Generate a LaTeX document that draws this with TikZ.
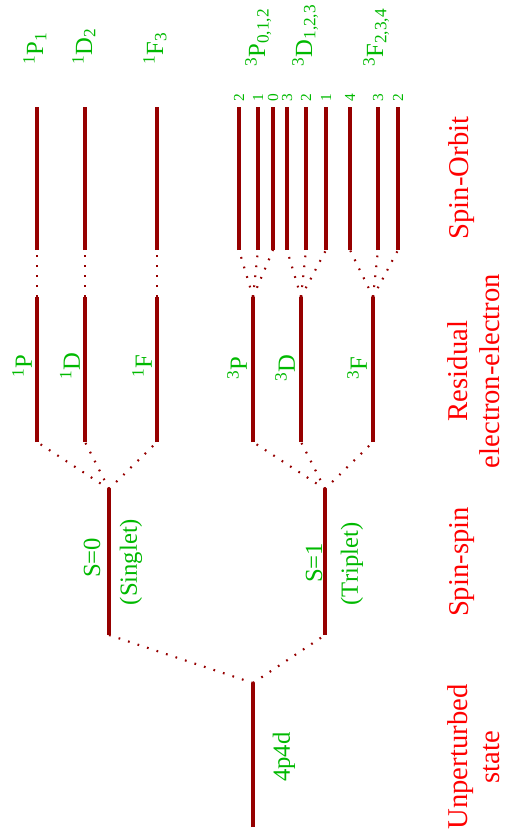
\documentclass[tikz,border=0pt]{standalone}
\usepackage{fontspec}
\setmainfont{Liberation Serif}
\definecolor{lvl}{RGB}{150,0,0}
\definecolor{lblgreen}{RGB}{0,185,0}
\definecolor{lblred}{RGB}{255,0,0}
\tikzset{
  level/.style={draw=lvl, line width=2.3pt},
  split/.style={draw=lvl, line width=1.6pt, dash pattern=on 1.3pt off 6.2pt},
  glab/.style={text=lblgreen, rotate=90, inner sep=0pt, font=\fontsize{18.5}{20}\selectfont},
  toplab/.style={glab, anchor=base west},
  jlab/.style={text=lblgreen, rotate=90, inner sep=0pt, font=\fontsize{11.5}{12}\selectfont},
  rlab/.style={text=lblred, rotate=90, inner sep=0pt, align=center, font=\fontsize{21.5}{24}\selectfont},
}
\begin{document}
\begin{tikzpicture}[x=0.75pt, y=-0.75pt]
\useasboundingbox (0,0) rectangle (507,836);
% --- unperturbed
\coordinate (u0) at (253,827);
\coordinate (u1) at (253,683);
\draw[level] (u0) -- (u1);
% --- spin-spin
\coordinate (s0b) at (109,635); \coordinate (s0t) at (109,489);
\coordinate (s1b) at (325,635); \coordinate (s1t) at (325,489);
\draw[level] (s0b) -- (s0t);
\draw[level] (s1b) -- (s1t);
\draw[split] (u1) -- (s0b);
\draw[split] (u1) -- (s1b);
% --- residual
\foreach \n/\x/\p in {aP/37/s0t, aD/85/s0t, aF/157/s0t, cP/253/s1t, cD/301/s1t, cF/373/s1t}{
  \coordinate (\n b) at (\x,442);
  \coordinate (\n t) at (\x,297);
  \draw[level] (\n b) -- (\n t);
  \draw[split] (\p) -- (\n b);
}
% --- spin-orbit
\foreach \n/\x/\p/\j in {oP1/37/aPt/, oD2/85/aDt/, oF3/157/aFt/,
   tP2/239/cPt/2, tP1/258/cPt/1, tP0/273/cPt/0,
   tD3/287/cDt/3, tD2/306/cDt/2, tD1/326/cDt/1,
   tF4/350/cFt/4, tF3/378/cFt/3, tF2/398/cFt/2}{
  \coordinate (\n b) at (\x,250);
  \coordinate (\n t) at (\x,107);
  \draw[level] (\n b) -- (\n t);
  \draw[split] (\p) -- (\n b);
  \node[jlab] (j\n) at (\x,98) {\j};
}
% --- green labels
\node[glab] (l4p4d) at (284,757) {4p4d};
\node[glab] (lS0) at (92,558) {S=0};
\node[glab] (lsing) at (131,562) {(Singlet)};
\node[glab] (lS1) at (314,563) {S=1};
\node[glab] (ltrip) at (352,564) {(Triplet)};
\node[glab] (l1P) at (22,366) {\textsuperscript{1}P};
\node[glab] (l1D) at (70,366) {\textsuperscript{1}D};
\node[glab] (l1F) at (142,366) {\textsuperscript{1}F};
\node[glab] (l3P) at (237,368) {\textsuperscript{3}P};
\node[glab] (l3D) at (285,368) {\textsuperscript{3}D};
\node[glab] (l3F) at (357,368) {\textsuperscript{3}F};
\node[toplab] (t1P) at (43,65) {\textsuperscript{1}P\textsubscript{1}};
\node[toplab] (t1D) at (92,65) {\textsuperscript{1}D\textsubscript{2}};
\node[toplab] (t1F) at (163,65) {\textsuperscript{1}F\textsubscript{3}};
\node[toplab] (t3P) at (265,67) {\textsuperscript{3}P\textsubscript{0,1,2}};
\node[toplab] (t3D) at (312,67) {\textsuperscript{3}D\textsubscript{1,2,3}};
\node[toplab] (t3F) at (383,67) {\textsuperscript{3}F\textsubscript{2,3,4}};
% --- red labels
\node[rlab] (rso) at (462,178) {Spin-Orbit};
\node[rlab] (rres) at (474,371) {Residual\\electron-electron};
\node[rlab] (rss) at (462,562) {Spin-spin};
\node[rlab] (run) at (474,757) {Unperturbed\\state};
\end{tikzpicture}
\end{document}
